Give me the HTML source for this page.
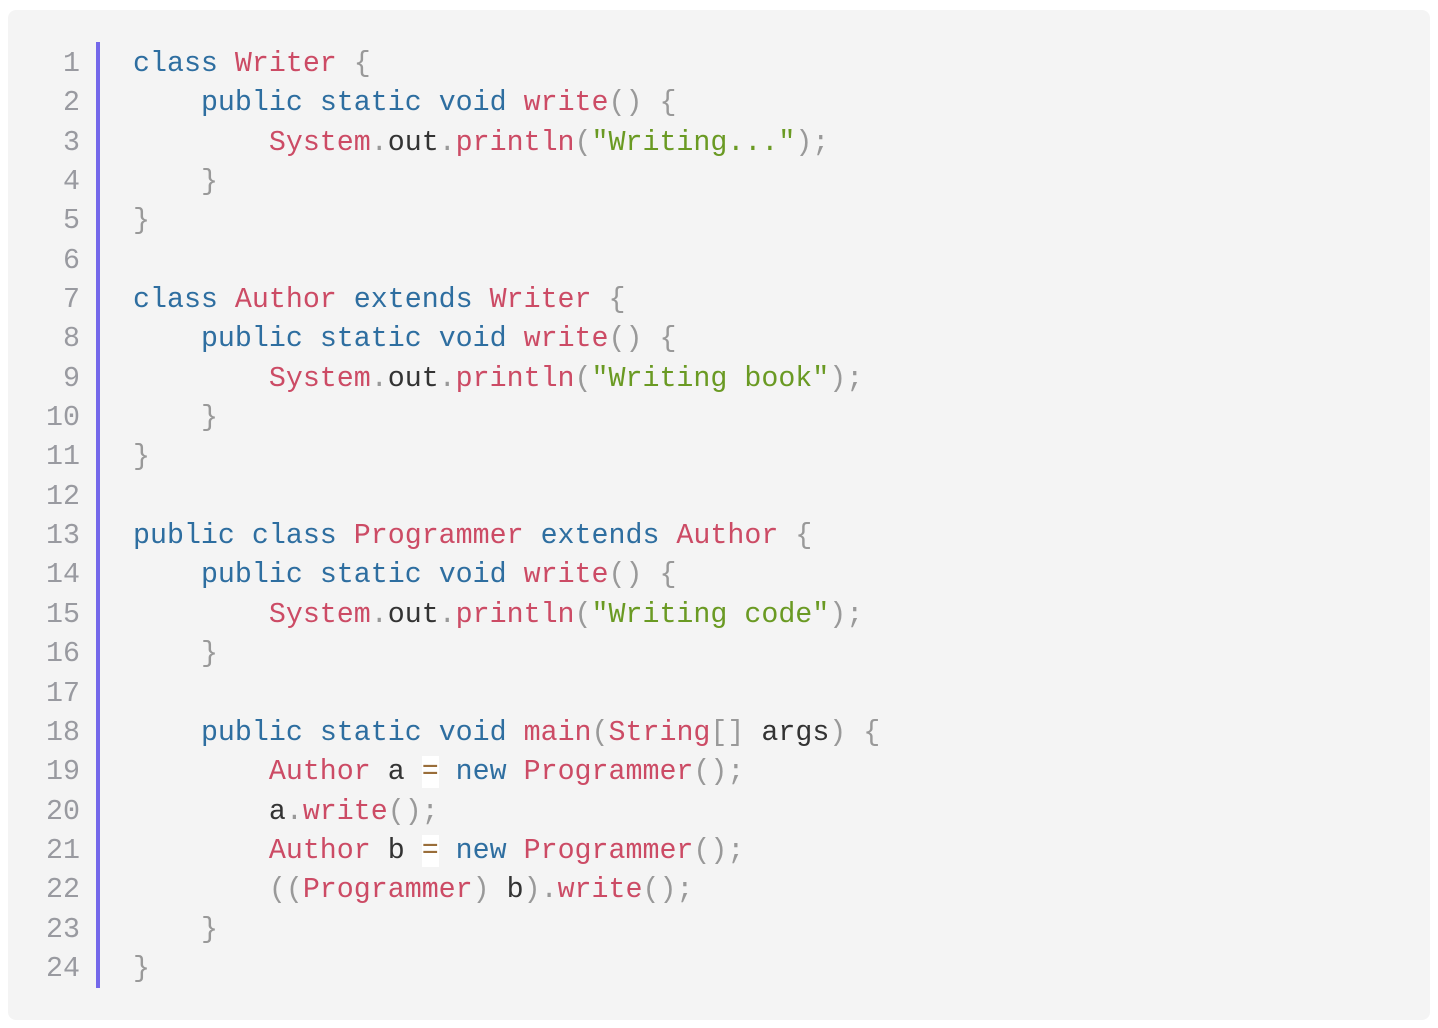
<!DOCTYPE html>
<html><head><style>
html,body{margin:0;padding:0;background:#fff;width:1438px;height:1028px;overflow:hidden}
.card{position:absolute;left:8px;top:10px;width:1422px;height:1010px;background:#f4f4f4;border-radius:8px}
.bar{position:absolute;left:96px;top:42px;width:4px;height:946px;background:#7468ea}
.nums,.code{position:absolute;top:45px;font-family:"Liberation Mono",monospace;font-size:28.3px;line-height:39.35px;white-space:pre;margin:0}
.nums{left:30px;width:50px;text-align:right;color:#999aa0}
.code{left:133px;color:#333}
.k{color:#2e6ea0}.r{color:#cc4b65}.p{color:#999}.s{color:#6a9a23}.o{color:#9a6e3a;background:#fff}
</style></head><body>
<div class="card"></div>
<div class="bar"></div>
<pre class="nums">1
2
3
4
5
6
7
8
9
10
11
12
13
14
15
16
17
18
19
20
21
22
23
24</pre>
<pre class="code"><span class="k">class</span> <span class="r">Writer</span> <span class="p">{</span>
    <span class="k">public</span> <span class="k">static</span> <span class="k">void</span> <span class="r">write</span><span class="p">()</span> <span class="p">{</span>
        <span class="r">System</span><span class="p">.</span>out<span class="p">.</span><span class="r">println</span><span class="p">(</span><span class="s">"Writing..."</span><span class="p">);</span>
    <span class="p">}</span>
<span class="p">}</span>

<span class="k">class</span> <span class="r">Author</span> <span class="k">extends</span> <span class="r">Writer</span> <span class="p">{</span>
    <span class="k">public</span> <span class="k">static</span> <span class="k">void</span> <span class="r">write</span><span class="p">()</span> <span class="p">{</span>
        <span class="r">System</span><span class="p">.</span>out<span class="p">.</span><span class="r">println</span><span class="p">(</span><span class="s">"Writing book"</span><span class="p">);</span>
    <span class="p">}</span>
<span class="p">}</span>

<span class="k">public</span> <span class="k">class</span> <span class="r">Programmer</span> <span class="k">extends</span> <span class="r">Author</span> <span class="p">{</span>
    <span class="k">public</span> <span class="k">static</span> <span class="k">void</span> <span class="r">write</span><span class="p">()</span> <span class="p">{</span>
        <span class="r">System</span><span class="p">.</span>out<span class="p">.</span><span class="r">println</span><span class="p">(</span><span class="s">"Writing code"</span><span class="p">);</span>
    <span class="p">}</span>

    <span class="k">public</span> <span class="k">static</span> <span class="k">void</span> <span class="r">main</span><span class="p">(</span><span class="r">String</span><span class="p">[]</span> args<span class="p">)</span> <span class="p">{</span>
        <span class="r">Author</span> a <span class="o">=</span> <span class="k">new</span> <span class="r">Programmer</span><span class="p">();</span>
        a<span class="p">.</span><span class="r">write</span><span class="p">();</span>
        <span class="r">Author</span> b <span class="o">=</span> <span class="k">new</span> <span class="r">Programmer</span><span class="p">();</span>
        <span class="p">((</span><span class="r">Programmer</span><span class="p">)</span> b<span class="p">).</span><span class="r">write</span><span class="p">();</span>
    <span class="p">}</span>
<span class="p">}</span></pre>
</body></html>
